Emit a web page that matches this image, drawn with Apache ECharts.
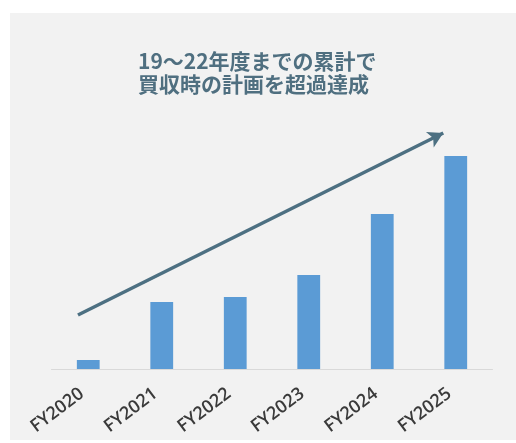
<!DOCTYPE html>
<html>
<head>
<meta charset="utf-8">
<script src="https://cdn.jsdelivr.net/npm/echarts@6/dist/echarts.min.js"></script>
<style>
html,body{margin:0;padding:0;background:#ffffff;}
#panel{position:absolute;left:10px;top:13px;width:506px;height:427px;background:#f2f2f2;}
#chart{position:absolute;left:0;top:0;width:516px;height:443px;}
</style>
</head>
<body>
<div id="panel"></div>
<div id="chart"></div>
<script>
const categories = ['FY2020','FY2021','FY2022','FY2023','FY2024','FY2025'];
const values = [9, 67, 72, 94, 155, 213];
const trendStart = [0.36, 54];
const trendEnd = [5.33, 236];
const titleLines = ['19～22年度までの累計で', '買収時の計画を超過達成'];

const chart = echarts.init(document.getElementById('chart'), null, {renderer:'canvas'});
chart.setOption({
  backgroundColor: 'transparent',
  animation: false,
  title: {
    text: titleLines.join('\n'),
    left: 133, top: 45,
    textStyle: {
      fontFamily: '"Noto Sans CJK JP", sans-serif',
      fontSize: 21, fontWeight: 'bold', color: '#4f6f80', lineHeight: 23
    }
  },
  grid: {left: 51.5, right: 23.5, top: 119, bottom: 74},
  xAxis: [{
    type: 'category', data: categories,
    axisLine: {lineStyle: {color: '#d9d9d9', width: 1}},
    axisTick: {show: false},
    axisLabel: {
      rotate: 37, margin: 18, color: '#3a3a3a', padding: [0, 8, 0, 0],
      fontFamily: '"Open Sans", "Noto Sans", sans-serif', fontSize: 18, fontWeight: 600
    }
  }, {
    type: 'value', min: 0, max: 6, show: false
  }],
  yAxis: {type: 'value', min: 0, max: 250, show: false},
  series: [{
    type: 'bar', data: values, barWidth: '31%',
    itemStyle: {color: '#5b9bd5'}
  }, {
    type: 'line', xAxisIndex: 1, data: [], silent: true,
    markLine: {
      silent: true, symbol: ['none','arrow'], symbolSize: [13, 15],
      label: {show: false},
      lineStyle: {color: '#4d7082', width: 3.5, type: 'solid'},
      data: [[{coord: trendStart}, {coord: trendEnd}]]
    }
  }]
});
</script>
</body>
</html>
